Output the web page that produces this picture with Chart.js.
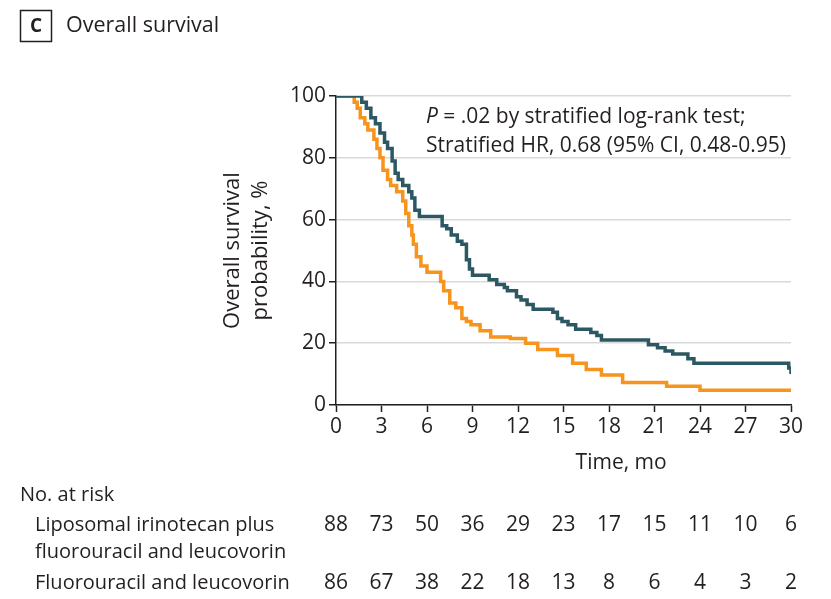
<!DOCTYPE html>
<html>
<head>
<meta charset="utf-8">
<script src="https://cdn.jsdelivr.net/npm/chart.js@4/dist/chart.umd.min.js"></script>
<style>
  html, body { margin: 0; padding: 0; background: #fff; }
  #wrap { width: 831px; height: 599px; position: relative; }
</style>
</head>
<body>
<div id="wrap"><canvas id="km"></canvas></div>
<script>
// Kaplan-Meier steps: time of drop (months) and survival (%) after the drop
const liposomalTime = [0, 1.7, 2.0, 2.3, 2.6, 2.9, 3.2, 3.4, 3.7, 3.9, 4.1, 4.4, 4.8, 5.0, 5.2, 5.5, 7.0, 7.3, 7.6, 8.0, 8.3, 8.6, 8.8, 9.0, 10.1, 10.6, 11.1, 11.3, 11.9, 12.2, 12.6, 13.0, 14.3, 14.6, 14.9, 15.3, 15.8, 16.8, 17.2, 17.5, 20.6, 21.2, 21.7, 22.2, 23.2, 23.6, 29.85, 30];
const liposomalSurv = [100, 98, 96, 93, 91, 88, 85, 83, 79, 75, 73, 71, 69, 67, 63, 61, 58, 57, 55, 53, 52, 47, 44, 42, 40.5, 39, 38, 37, 35, 34, 32.5, 31, 30, 28, 27, 26, 24.5, 23.5, 22.5, 21, 19.5, 18.5, 17.5, 16.5, 15, 13.5, 12, 10];

const fluoroTime = [0, 1.2, 1.4, 1.6, 1.9, 2.1, 2.5, 2.7, 2.9, 3.1, 3.4, 3.6, 4.0, 4.4, 4.6, 4.8, 5.0, 5.1, 5.3, 5.6, 6.0, 6.9, 7.1, 7.5, 7.9, 8.3, 8.6, 8.9, 9.5, 10.2, 11.5, 12.5, 13.3, 14.6, 15.6, 16.5, 17.5, 18.9, 21.8, 24.0, 30];
const fluoroSurv = [100, 98, 96, 93, 91, 89, 86, 83, 80, 76, 73, 71, 69, 66, 62, 58, 55, 52, 48, 45, 43, 40, 37, 33, 31.5, 28, 27, 26, 24, 22, 21.5, 20, 18, 16, 13.5, 11.5, 9.7, 7.3, 6.1, 4.8, 4.8];

const xTicks = [0, 3, 6, 9, 12, 15, 18, 21, 24, 27, 30];
const yTicks = [0, 20, 40, 60, 80, 100];

const riskLiposomal = [88, 73, 50, 36, 29, 23, 17, 15, 11, 10, 6];
const riskFluoro = [86, 67, 38, 22, 18, 13, 8, 6, 4, 3, 2];

const TEAL = '#2c5864';
const ORANGE = '#f7941d';
const INK = '#231f20';
const FONT = '"Open Sans", "DejaVu Sans", sans-serif';

const toPoints = (t, s) => t.map((x, i) => ({ x: x, y: s[i] }));

// headings, annotation, x title and number-at-risk table
const extras = {
  id: 'extras',
  afterDraw(chart) {
    const { ctx } = chart;
    const xs = chart.scales.x;
    const ys = chart.scales.y;
    ctx.save();
    ctx.fillStyle = INK;

    // panel letter + title
    ctx.strokeStyle = INK;
    ctx.lineWidth = 1.5;
    ctx.strokeRect(20.5, 10.5, 31, 31);
    ctx.font = 'bold 19px ' + FONT;
    ctx.textAlign = 'center';
    ctx.textBaseline = 'middle';
    ctx.fillText('C', 36, 27);
    ctx.font = '21.5px ' + FONT;
    ctx.textAlign = 'left';
    ctx.fillText('Overall survival', 66, 26);

    // annotation
    let ax = 426, ay = ys.getPixelForValue(93.3);
    ctx.font = 'italic 21px ' + FONT;
    ctx.fillText('P', ax, ay);
    const pw = ctx.measureText('P').width;
    ctx.font = '21px ' + FONT;
    ctx.fillText(' = .02 by stratified log-rank test;', ax + pw, ay);
    ctx.fillText('Stratified HR, 0.68 (95% CI, 0.48-0.95)', ax, ay + 29);

    // x axis title
    ctx.textAlign = 'center';
    ctx.fillText('Time, mo', xs.getPixelForValue(18.8), 463);

    // number at risk
    ctx.font = '20px ' + FONT;
    ctx.textAlign = 'left';
    ctx.fillText('No. at risk', 20, 495);
    ctx.fillText('Liposomal irinotecan plus', 35, 525);
    ctx.fillText('fluorouracil and leucovorin', 35, 552);
    ctx.fillText('Fluorouracil and leucovorin', 35, 583);
    ctx.font = '21px ' + FONT;
    ctx.textAlign = 'center';
    xTicks.forEach((t, i) => {
      const px = xs.getPixelForValue(t);
      ctx.fillText(String(riskLiposomal[i]), px, 525);
      ctx.fillText(String(riskFluoro[i]), px, 583);
    });
    ctx.restore();
  }
};

new Chart(document.getElementById('km'), {
  type: 'line',
  data: {
    datasets: [
      {
        label: 'Liposomal irinotecan plus fluorouracil and leucovorin',
        data: toPoints(liposomalTime, liposomalSurv),
        borderColor: TEAL,
        borderWidth: 3.5,
        stepped: 'before',
        pointRadius: 0,
        fill: false
      },
      {
        label: 'Fluorouracil and leucovorin',
        data: toPoints(fluoroTime, fluoroSurv),
        borderColor: ORANGE,
        borderWidth: 3.5,
        stepped: 'before',
        pointRadius: 0,
        fill: false
      }
    ]
  },
  options: {
    responsive: true,
    maintainAspectRatio: false,
    animation: false,
    layout: { padding: { left: 212, top: 96, right: 40, bottom: 0 } },
    plugins: { legend: { display: false }, tooltip: { enabled: false } },
    scales: {
      x: {
        type: 'linear',
        min: 0,
        max: 30,
        afterBuildTicks: (s) => { s.ticks = xTicks.map(v => ({ value: v })); },
        afterFit: (s) => { s.height = 194; },
        ticks: { color: INK, font: { family: FONT, size: 21 }, padding: 2 },
        grid: { drawOnChartArea: false, tickLength: 7, tickColor: INK, tickWidth: 1.5 },
        border: { color: INK, width: 1.5 }
      },
      y: {
        min: 0,
        max: 100,
        afterBuildTicks: (s) => { s.ticks = yTicks.map(v => ({ value: v })); },
        afterFit: (s) => { s.width = 336 - 212; },
        ticks: { color: INK, font: { family: FONT, size: 21 }, padding: 3 },
        grid: { color: '#d9d9d9', lineWidth: 1.5, tickLength: 7, tickColor: INK, tickWidth: 1.5 },
        border: { color: INK, width: 1.5 },
        title: {
          display: true,
          text: ['Overall survival', 'probability, %'],
          color: INK,
          font: { family: FONT, size: 22, lineHeight: 1.3 },
          padding: { top: 6, bottom: 0 }
        }
      }
    }
  },
  plugins: [extras]
});
</script>
</body>
</html>
